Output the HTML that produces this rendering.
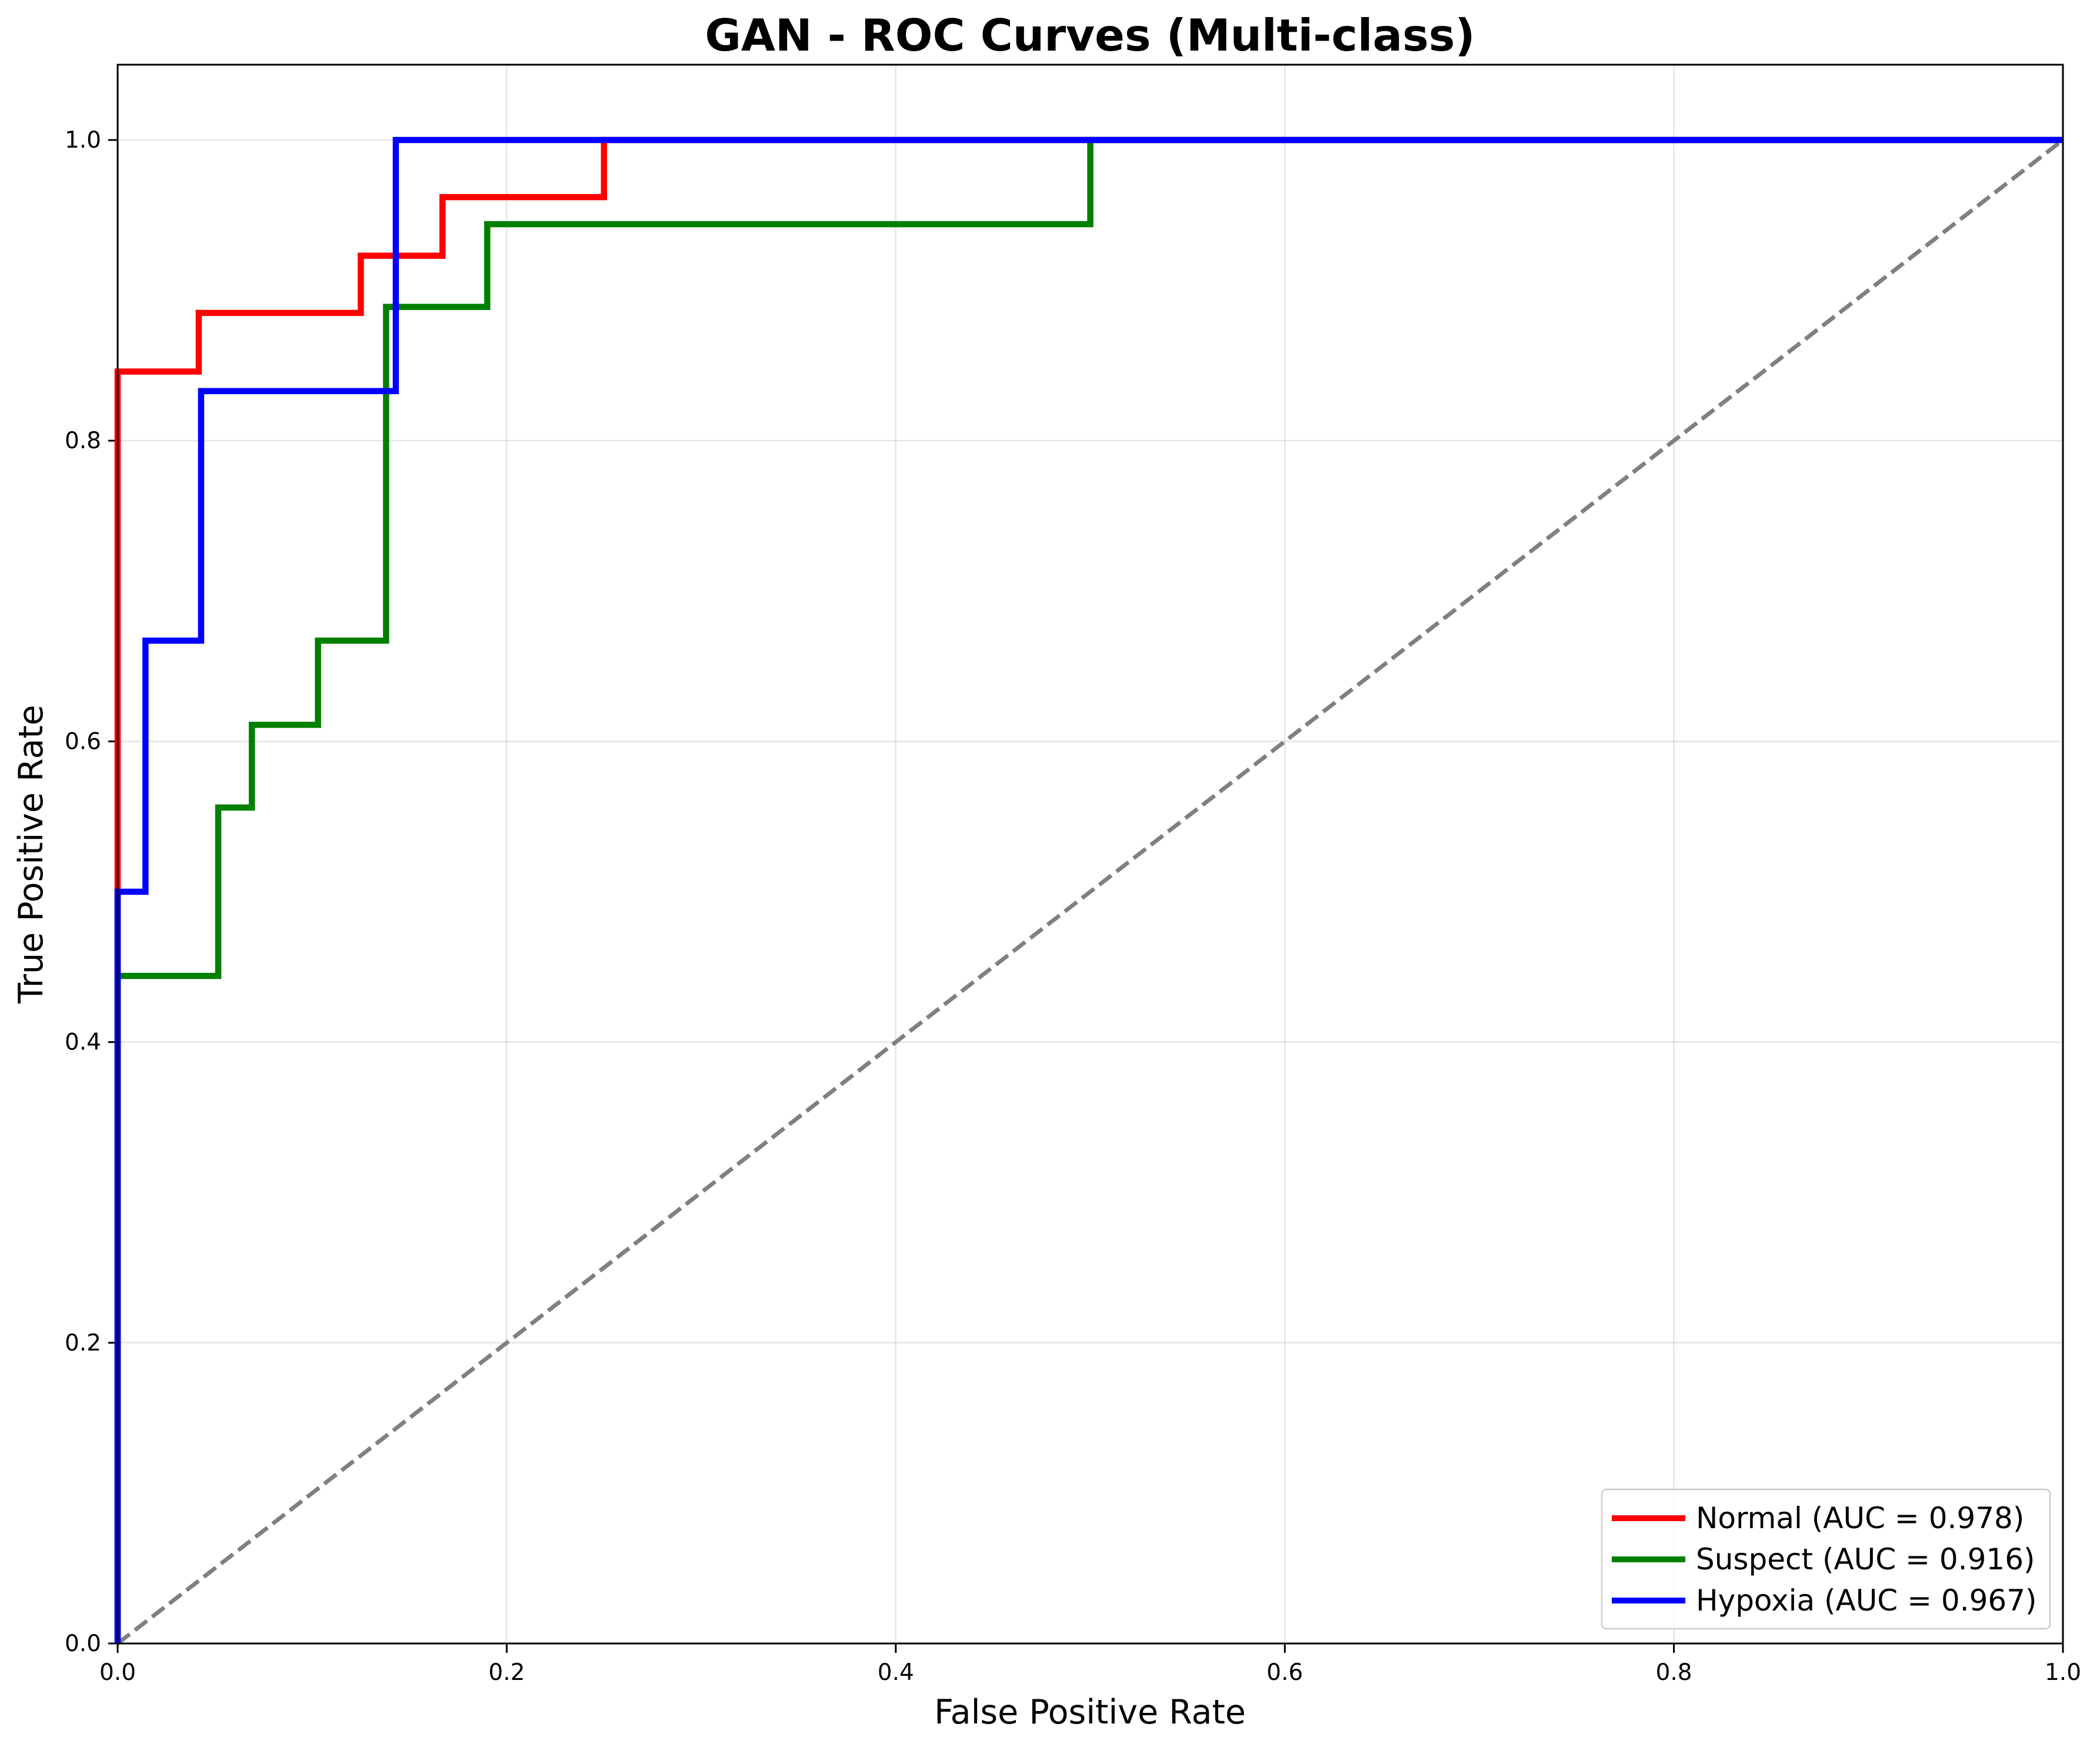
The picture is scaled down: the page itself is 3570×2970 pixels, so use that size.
<!DOCTYPE html>
<html><head><meta charset="utf-8"><style>body{margin:0;background:#fff}svg{display:block}</style></head>
<body>
<svg id="chart" width="3570" height="2970" xmlns="http://www.w3.org/2000/svg" font-family="'DejaVu Sans','Liberation Sans',sans-serif">
<rect width="3570" height="2970" fill="#fff"/>
<text x="1853" y="86" font-size="75" font-weight="bold" text-anchor="middle">GAN - ROC Curves (Multi-class)</text>
<g id="grid"></g><g id="ticks"></g><g id="series"></g>
<rect x="200" y="110" width="3307" height="2684" fill="none" stroke="#000" stroke-width="3"/>
<text x="1853" y="2930" font-size="57" text-anchor="middle">False Positive Rate</text>
<text x="72" y="1452" font-size="57" text-anchor="middle" transform="rotate(-90 72 1452)">True Positive Rate</text>
<g>
<rect x="2723" y="2532" width="762" height="237" rx="8" fill="#fff" fill-opacity="0.8" stroke="#ccc" stroke-width="2.5"/>
<line x1="2740" y1="2581" x2="2865" y2="2581" stroke="red" stroke-width="10"/>
<text x="2883" y="2598" font-size="50">Normal (AUC = 0.978)</text>
<line x1="2740" y1="2651" x2="2865" y2="2651" stroke="green" stroke-width="10"/>
<text x="2883" y="2668" font-size="50">Suspect (AUC = 0.916)</text>
<line x1="2740" y1="2721" x2="2865" y2="2721" stroke="blue" stroke-width="10"/>
<text x="2883" y="2738" font-size="50">Hypoxia (AUC = 0.967)</text>
</g>
</svg>
<script>
const xTicks=[0,0.2,0.4,0.6,0.8,1.0];
const yTicks=[0,0.2,0.4,0.6,0.8,1.0];
const normalFpr=[0,0,0.0417,0.0417,0.125,0.125,0.167,0.167,0.25,0.25,1];
const normalTpr=[0,0.846,0.846,0.885,0.885,0.923,0.923,0.962,0.962,1,1];
const suspectFpr=[0,0,0.0517,0.0517,0.069,0.069,0.103,0.103,0.138,0.138,0.19,0.19,0.5,0.5,1];
const suspectTpr=[0,0.444,0.444,0.556,0.556,0.611,0.611,0.667,0.667,0.889,0.889,0.944,0.944,1,1];
const hypoxiaFpr=[0,0,0.0143,0.0143,0.0429,0.0429,0.143,0.143,1];
const hypoxiaTpr=[0,0.5,0.5,0.667,0.667,0.833,0.833,1,1];
const NS='http://www.w3.org/2000/svg';
const X=v=>200+v*3307, Y=v=>2794-v*2556;
function mk(t,a,p){const e=document.createElementNS(NS,t);for(const k in a)e.setAttribute(k,a[k]);p.appendChild(e);return e;}
const grid=document.getElementById('grid'),ticks=document.getElementById('ticks'),series=document.getElementById('series');
xTicks.forEach(v=>{
 const g=mk('line',{x1:X(v),x2:X(v),y1:110,y2:2794,stroke:'#000','stroke-opacity':0.1,'stroke-width':2.5},grid);
 
 
 mk('line',{x1:X(v),x2:X(v),y1:2794,y2:2810,stroke:'#000','stroke-width':3},ticks);
 const t=mk('text',{x:X(v),y:2856,'font-size':39,'text-anchor':'middle'},ticks);t.textContent=v.toFixed(1);
 
 
});
yTicks.forEach(v=>{
 const g=mk('line',{x1:200,x2:3507,y1:Y(v),y2:Y(v),stroke:'#000','stroke-opacity':0.1,'stroke-width':2.5},grid);
 
 
 mk('line',{x1:184,x2:200,y1:Y(v),y2:Y(v),stroke:'#000','stroke-width':3},ticks);
 const t=mk('text',{x:172,y:Y(v)+13,'font-size':39,'text-anchor':'end'},ticks);t.textContent=v.toFixed(1);
 
 
});
const d=mk('line',{x1:X(0),y1:Y(0),x2:X(1),y2:Y(1),stroke:'#808080','stroke-width':7,'stroke-dasharray':'26 11'},series);


function curve(xs,ys,c,name){
 const p=mk('polyline',{points:xs.map((x,i)=>X(x)+','+Y(ys[i])).join(' '),fill:'none',stroke:c,'stroke-width':10.5,'stroke-linejoin':'miter'},series);
 
 
}
curve(normalFpr,normalTpr,'red','roc-normal');
curve(suspectFpr,suspectTpr,'green','roc-suspect');
curve(hypoxiaFpr,hypoxiaTpr,'blue','roc-hypoxia');
</script>
</body></html>
